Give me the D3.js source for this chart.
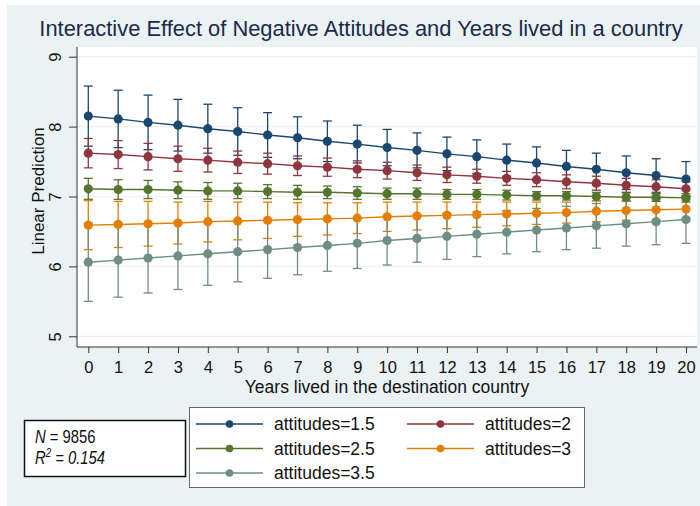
<!DOCTYPE html>
<html>
<head>
<meta charset="utf-8">
<script src="https://cdn.jsdelivr.net/npm/d3@7"></script>
<style>
body { margin: 0; background: #fff; }
svg { display: block; font-family: "Liberation Sans", Arial, Helvetica, sans-serif; }
</style>
</head>
<body>
<script>
// years lived in the destination country
let years = [0,1,2,3,4,5,6,7,8,9,10,11,12,13,14,15,16,17,18,19,20];
let yTicks = [5,6,7,8,9];
let seriesNames = ["attitudes=1.5","attitudes=2","attitudes=2.5","attitudes=3","attitudes=3.5"];
let seriesColors = ["#1a476f","#90353b","#55752f","#e37e00","#6e8e84"];

// linear predictions
let pred15 = [8.15,8.11,8.06,8.02,7.97,7.93,7.88,7.84,7.79,7.75,7.70,7.66,7.61,7.57,7.52,7.48,7.43,7.39,7.34,7.30,7.25];
let pred20 = [7.62,7.60,7.57,7.54,7.52,7.49,7.47,7.44,7.42,7.39,7.37,7.34,7.31,7.29,7.26,7.24,7.21,7.19,7.16,7.14,7.11];
let pred25 = [7.11,7.10,7.10,7.09,7.08,7.08,7.07,7.06,7.06,7.05,7.04,7.04,7.03,7.03,7.02,7.01,7.01,7.00,6.99,6.99,6.98];
let pred30 = [6.59,6.60,6.61,6.62,6.64,6.65,6.66,6.67,6.68,6.69,6.71,6.72,6.73,6.74,6.75,6.76,6.77,6.79,6.80,6.81,6.82];
let pred35 = [6.06,6.09,6.12,6.15,6.18,6.21,6.24,6.27,6.30,6.33,6.37,6.40,6.43,6.46,6.49,6.52,6.55,6.58,6.61,6.64,6.67];

// half width of the 95% CI
let ci15 = [.43,.41,.39,.37,.35,.34,.32,.30,.29,.27,.26,.25,.24,.24,.23,.23,.23,.23,.24,.24,.25];
let ci20 = [.21,.20,.19,.18,.17,.16,.15,.14,.13,.12,.12,.11,.11,.10,.10,.10,.10,.10,.10,.10,.10];
let ci25 = [.15,.14,.13,.12,.12,.11,.10,.10,.09,.09,.08,.08,.07,.07,.07,.06,.06,.06,.06,.06,.06];
let ci30 = [.35,.33,.32,.30,.29,.27,.26,.24,.23,.22,.21,.20,.19,.18,.17,.16,.15,.15,.14,.14,.13];
let ci35 = [.56,.53,.50,.48,.45,.43,.41,.39,.37,.36,.35,.34,.33,.32,.31,.31,.31,.32,.32,.33,.34];

let preds = [pred15,pred20,pred25,pred30,pred35];
let cis = [ci15,ci20,ci25,ci30,ci35];

let width = 700, height = 506;
let svg = d3.select("body").append("svg")
    .attr("width", width)
    .attr("height", height);

svg.append("rect")
    .attr("x", 7).attr("y", 5)
    .attr("width", width - 7).attr("height", height - 5)
    .attr("fill", "#eaf2f3");

let plotLeft = 77, plotRight = 697, plotTop = 47, plotBottom = 347;

svg.append("rect")
    .attr("x", plotLeft).attr("y", plotTop)
    .attr("width", plotRight - plotLeft).attr("height", plotBottom - plotTop)
    .attr("fill", "#fff");

let x = d3.scaleLinear().domain([0,20]).range([88.3,686]);
let y = d3.scaleLinear().domain([5,9]).range([336.3,56.7]);

// grid
svg.selectAll(".grid")
    .data(yTicks)
    .enter().append("line")
    .attr("class","grid")
    .attr("x1", plotLeft).attr("x2", plotRight)
    .attr("y1", function (d){return y(d);})
    .attr("y2", function (d){return y(d);})
    .attr("stroke", "#eaf2f3")
    .attr("stroke-width", 1.2);

// axes
let yAxis = svg.append("g")
    .attr("transform", "translate(" + plotLeft + ",0)")
    .call(d3.axisLeft(y).tickValues(yTicks).tickSize(8).tickSizeOuter(0).tickFormat(d3.format("d")));
yAxis.select(".domain").attr("d", "M0," + plotTop + "V" + plotBottom).attr("stroke", "#333");
yAxis.selectAll(".tick line").attr("stroke", "#333");
yAxis.selectAll(".tick text")
    .attr("x", 0).attr("y", 0).attr("dy", 0)
    .attr("transform", "translate(-16.5,0) rotate(-90)")
    .attr("text-anchor", "middle")
    .style("font-size", "16.5px")
    .style("font-family", "Liberation Sans, Arial, sans-serif")
    .attr("fill", "#111");

let xAxis = svg.append("g")
    .attr("transform", "translate(0," + plotBottom + ")")
    .call(d3.axisBottom(x).tickValues(years).tickSize(6).tickSizeOuter(0).tickFormat(d3.format("d")));
xAxis.select(".domain").attr("d", "M" + plotLeft + ",0H" + plotRight).attr("stroke", "#333");
xAxis.selectAll(".tick line").attr("stroke", "#333");
xAxis.selectAll(".tick text")
    .attr("y", 25.5).attr("dy", 0)
    .style("font-size", "16.5px")
    .style("font-family", "Liberation Sans, Arial, sans-serif")
    .attr("fill", "#111");

svg.append("text")
    .attr("x", (plotLeft + plotRight) / 2).attr("y", 392.5)
    .attr("text-anchor", "middle")
    .style("font-size", "17.5px")
    .attr("fill", "#111")
    .text("Years lived in the destination country");

svg.append("text")
    .attr("transform", "translate(43.5,191) rotate(-90)")
    .attr("text-anchor", "middle")
    .style("font-size", "17px")
    .attr("fill", "#111")
    .text("Linear Prediction");

svg.append("text")
    .attr("x", 361).attr("y", 35.5)
    .attr("text-anchor", "middle")
    .style("font-size", "21.9px")
    .attr("fill", "#1c2a4a")
    .text("Interactive Effect of Negative Attitudes and Years lived in a country");

// confidence intervals
let capHalf = 4.5;
preds.forEach(function (p, s){
    let g = svg.append("g").attr("stroke", seriesColors[s]).attr("stroke-width", 1.3).attr("fill", "none");
    let rows = years.map(function (d, i){return [d, p[i] - cis[s][i], p[i] + cis[s][i]];});
    g.selectAll(".bar").data(rows).enter().append("line")
        .attr("x1", function (d){return x(d[0]);}).attr("x2", function (d){return x(d[0]);})
        .attr("y1", function (d){return y(d[1]);}).attr("y2", function (d){return y(d[2]);});
    g.selectAll(".capLo").data(rows).enter().append("line")
        .attr("x1", function (d){return x(d[0]) - capHalf;}).attr("x2", function (d){return x(d[0]) + capHalf;})
        .attr("y1", function (d){return y(d[1]);}).attr("y2", function (d){return y(d[1]);});
    g.selectAll(".capHi").data(rows).enter().append("line")
        .attr("x1", function (d){return x(d[0]) - capHalf;}).attr("x2", function (d){return x(d[0]) + capHalf;})
        .attr("y1", function (d){return y(d[2]);}).attr("y2", function (d){return y(d[2]);});
});

// prediction lines and markers
let line = d3.line()
    .x(function (d, i){return x(years[i]);})
    .y(function (d){return y(d);});
preds.forEach(function (p, s){
    svg.append("path")
        .attr("d", line(p))
        .attr("fill", "none")
        .attr("stroke", seriesColors[s])
        .attr("stroke-width", 1.4);
    svg.append("g").selectAll("circle").data(p).enter().append("circle")
        .attr("cx", function (d, i){return x(years[i]);})
        .attr("cy", function (d){return y(d);})
        .attr("r", 4.6)
        .attr("fill", seriesColors[s]);
});

// N / R2 box
svg.append("rect")
    .attr("x", 24.5).attr("y", 420.5)
    .attr("width", 161).attr("height", 56)
    .attr("fill", "#fff").attr("stroke", "#111").attr("stroke-width", 1.5);
// narrow look: squeeze the text horizontally
let stats = svg.append("g").attr("transform", "translate(35,0) scale(0.8,1)")
    .style("font-size", "18.5px").attr("fill", "#111");
let t1 = stats.append("text").attr("x", 0).attr("y", 443.5);
t1.append("tspan").style("font-style", "italic").text("N");
t1.append("tspan").text(" = 9856");
let t2 = stats.append("text").attr("x", 0).attr("y", 464.5).style("font-style", "italic");
t2.append("tspan").text("R");
t2.append("tspan").attr("dy", -7).style("font-size", "12px").text("2");
t2.append("tspan").attr("dy", 7).text(" = 0.154");

// legend
svg.append("rect")
    .attr("x", 189.5).attr("y", 407.5)
    .attr("width", 395).attr("height", 80)
    .attr("fill", "#fff").attr("stroke", "#666").attr("stroke-width", 1);
let legX = [196, 407], legY = [424, 448.5, 473];
seriesNames.forEach(function (name, s){
    let lx = legX[s % 2], ly = legY[Math.floor(s / 2)];
    let g = svg.append("g");
    g.append("line")
        .attr("x1", lx).attr("x2", lx + 67)
        .attr("y1", ly).attr("y2", ly)
        .attr("stroke", seriesColors[s]).attr("stroke-width", 1.4);
    g.append("circle")
        .attr("cx", lx + 33.5).attr("cy", ly).attr("r", 3.8)
        .attr("fill", seriesColors[s]);
    g.append("text")
        .attr("x", lx + 78).attr("y", ly + 6)
        .style("font-size", "17.5px")
        .attr("fill", "#111")
        .text(name);
});
</script>
</body>
</html>
